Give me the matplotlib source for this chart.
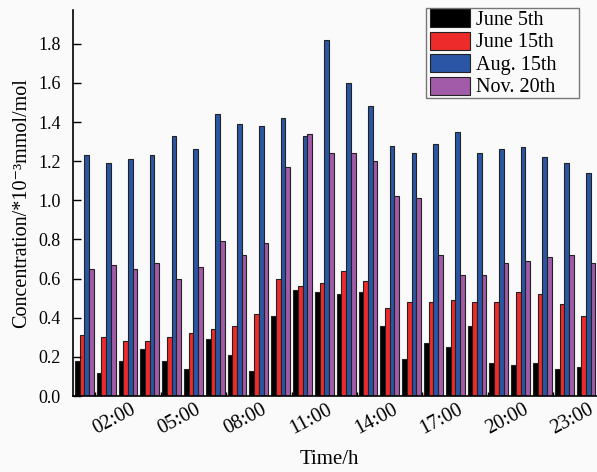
import numpy as np
import matplotlib
matplotlib.use('Agg')
import matplotlib.pyplot as plt
from matplotlib.ticker import FixedLocator
from matplotlib.patches import Rectangle

# hourly concentration, *10^-3 mmol/mol
hours = ['%02d:00' % h for h in range(24)]
june5 = [0.18, 0.12, 0.18, 0.24, 0.18, 0.14, 0.29, 0.21, 0.13, 0.41, 0.54, 0.53,
         0.52, 0.53, 0.36, 0.19, 0.27, 0.25, 0.36, 0.17, 0.16, 0.17, 0.14, 0.15]
june15 = [0.31, 0.30, 0.28, 0.28, 0.30, 0.32, 0.34, 0.36, 0.42, 0.60, 0.56, 0.58,
          0.64, 0.59, 0.45, 0.48, 0.48, 0.49, 0.48, 0.48, 0.53, 0.52, 0.47, 0.41]
aug15 = [1.23, 1.19, 1.21, 1.23, 1.33, 1.26, 1.44, 1.39, 1.38, 1.42, 1.33, 1.82,
         1.60, 1.48, 1.28, 1.24, 1.29, 1.35, 1.24, 1.26, 1.27, 1.22, 1.19, 1.14]
nov20 = [0.65, 0.67, 0.65, 0.68, 0.60, 0.66, 0.79, 0.72, 0.78, 1.17, 1.34, 1.24,
         1.24, 1.20, 1.02, 1.01, 0.72, 0.62, 0.62, 0.68, 0.69, 0.71, 0.72, 0.68]
series = [('June 5th', june5, '#000000'),
          ('June 15th', june15, '#ee2b2b'),
          ('Aug. 15th', aug15, '#2b56a6'),
          ('Nov. 20th', nov20, '#a25ba8')]
labelled = hours[2::3]

plt.rcParams['font.family'] = ['Liberation Serif', 'DejaVu Serif']
fig = plt.figure(figsize=(5.97, 4.72), dpi=100, facecolor='#fafafa')
ax = fig.add_axes([0.1223, 0.161, 0.8777, 0.818])
ax.set_facecolor('#fafafa')

x = np.arange(len(hours))
w = 0.215
for i, (name, vals, col) in enumerate(series):
    ax.bar(x + (i - 1.5) * w, vals, w, color=col, edgecolor='#222222',
           linewidth=0.8, label=name)

ax.set_xlim(-0.52, 23.3)
ax.set_ylim(0, 1.973)
ax.set_yticks(np.arange(0, 1.81, 0.2))
ax.set_yticklabels(['%.1f' % v for v in np.arange(0, 1.81, 0.2)])
ax.tick_params(axis='y', direction='in', length=6, width=1, pad=9, labelsize=13)

# labels sit a bit right of their group, ticks at group boundaries
lab_pos = [hours.index(h) + 0.5 for h in labelled]
ax.set_xticks(lab_pos)
ax.set_xticklabels(labelled, rotation=28, ha='right')
ax.tick_params(axis='x', which='major', length=0, pad=3, labelsize=14.5)
ax.xaxis.set_minor_locator(FixedLocator([hours.index(h) - 1.5 for h in labelled]))
ax.tick_params(axis='x', which='minor', direction='in', length=3, width=1)

for s in ['top', 'right']:
    ax.spines[s].set_visible(False)
ax.spines['left'].set_linewidth(1.2)
ax.spines['bottom'].set_linewidth(1.2)

ax.set_xlabel('Time/h', fontsize=15)
ax.xaxis.set_label_coords(0.49, -0.14)
ax.set_ylabel('Concentration/*10⁻³mmol/mol', fontsize=14.5, labelpad=5)

leg = ax.legend(loc='upper left', bbox_to_anchor=(430 / 597, 1 - 9 / 472),
                bbox_transform=fig.transFigure, fontsize=14.5, frameon=False,
                handlelength=2.0, handleheight=1.0, labelspacing=0.08,
                handletextpad=0.3, borderpad=0.0, borderaxespad=0)
leg.set_zorder(6)
# legend box is wider than its content in the original
ax.add_patch(Rectangle((426 / 597, 1 - 98 / 472), 153 / 597, 90 / 472,
                       transform=fig.transFigure, facecolor='#fafafa',
                       edgecolor='#777777', linewidth=1, zorder=5,
                       clip_on=False))

plt.savefig('out.png', dpi=100, facecolor=fig.get_facecolor())
